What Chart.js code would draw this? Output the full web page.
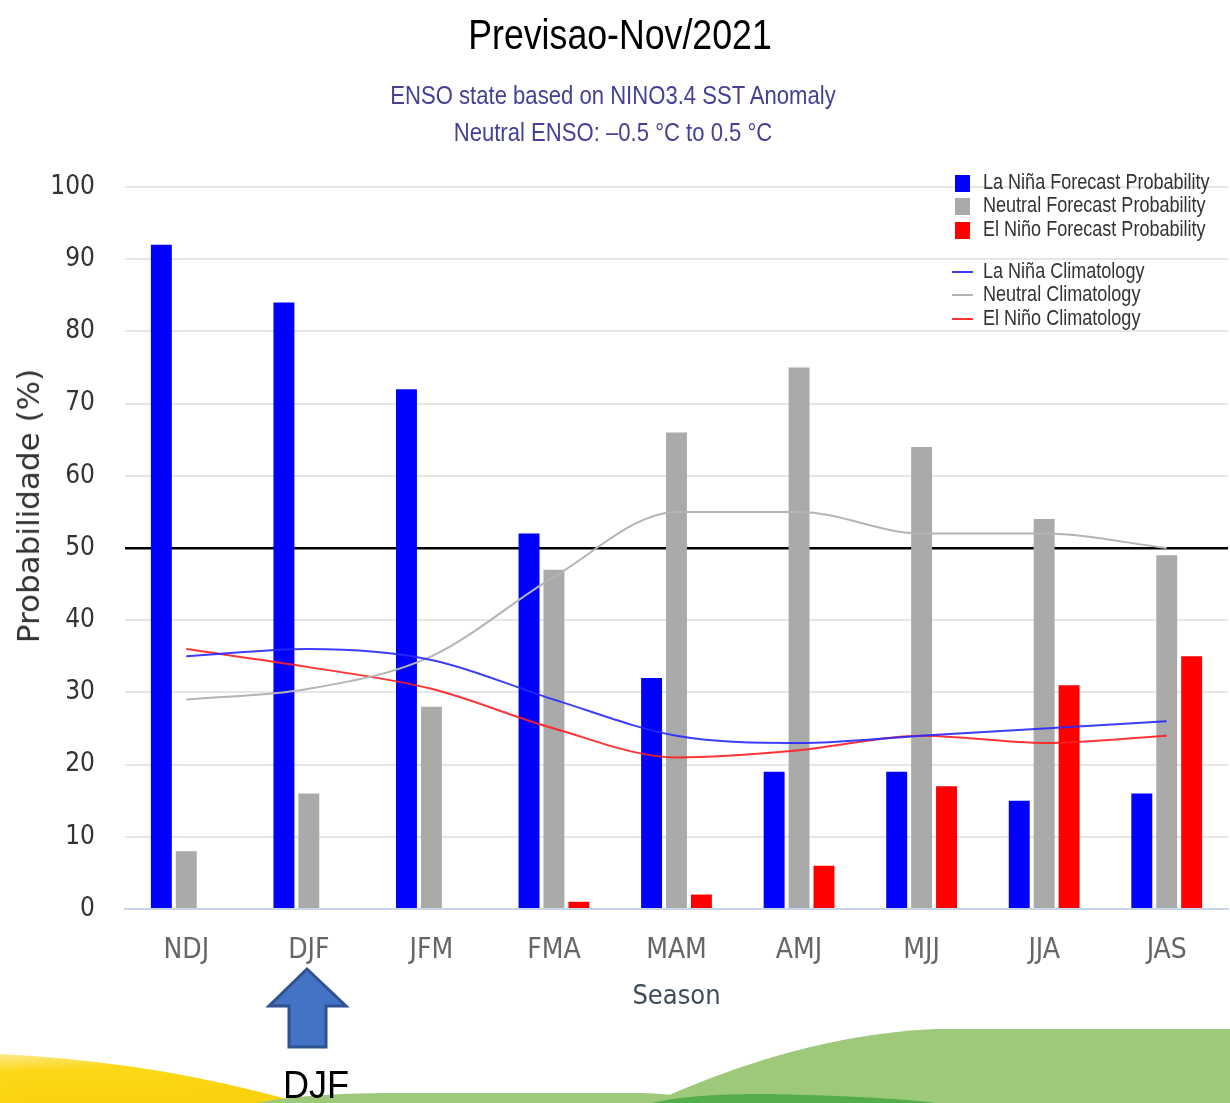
<!DOCTYPE html>
<html>
<head>
<meta charset="utf-8">
<script src="https://cdn.jsdelivr.net/npm/chart.js@4.4.0/dist/chart.umd.min.js"></script>
<style>
  body { margin: 0; background: #fff; }
  #page { position: relative; width: 1230px; height: 1103px; overflow: hidden; }
  #deco { position: absolute; left: 0; top: 0; }
  #myChart { position: absolute; left: 0; top: 0; }
  .txt { position: absolute; white-space: nowrap; }
  #title { left: 0; width: 1240px; top: 13px; text-align: center; transform: scaleX(0.83);
    font: 43px "Liberation Sans", Arial, sans-serif; line-height: 43px; color: #000; }
  #subtitle { left: 0; width: 1226px; top: 77px; text-align: center; transform: scaleX(0.85);
    font: 26px "Liberation Sans", sans-serif; line-height: 37px; color: #453f96; }
  #ylabel { left: 28px; top: 506px; transform: translate(-50%, -50%) rotate(-90deg);
    font: 31px "DejaVu Sans", sans-serif; color: #333; }
  #djf { left: 283px; top: 1066px; transform: scaleX(0.95); transform-origin: left center;
    font: 38px "Liberation Sans", Arial, sans-serif; line-height: 38px; color: #000; }
</style>
</head>
<body>
<div id="page">
  <svg id="deco" width="1230" height="1103">
    <defs>
      <linearGradient id="yel" x1="0" y1="0" x2="0.3" y2="1">
        <stop offset="0" stop-color="#fde98a"/>
        <stop offset="0.35" stop-color="#fcd817"/>
        <stop offset="1" stop-color="#fbd20f"/>
      </linearGradient>
    </defs>
    <path d="M0,1054 Q160,1062 300,1103 L0,1103 Z" fill="url(#yel)"/>
    <path d="M255,1103 Q300,1094 380,1093 L640,1093 Q700,1095 720,1103 Z" fill="#9ec97b"/>
    <path d="M651,1103 Q800,1035 935,1029 L1230,1029 L1230,1103 Z" fill="#9ec97b"/>
    <path d="M651,1103 Q690,1094 760,1094 Q880,1096 935,1103 Z" fill="#52ad4a"/>
    <polygon points="307,969 346,1006 326,1006 326,1047 289,1047 289,1006 269,1006"
      fill="#4472c4" stroke="#2f528f" stroke-width="3" stroke-linejoin="miter"/>
  </svg>
  <canvas id="myChart" width="1230" height="1103"></canvas>
  <div class="txt" id="title">Previsao-Nov/2021</div>
  <div class="txt" id="subtitle">ENSO state based on NINO3.4 SST Anomaly<br>Neutral ENSO: –0.5 °C to 0.5 °C</div>
  <div class="txt" id="ylabel">Probabilidade (%)</div>
  <div class="txt" id="djf">DJF</div>
</div>
<script>
const seasons = ['NDJ', 'DJF', 'JFM', 'FMA', 'MAM', 'AMJ', 'MJJ', 'JJA', 'JAS'];
const laNinaProb = [92, 84, 72, 52, 32, 19, 19, 15, 16];
const neutralProb = [8, 16, 28, 47, 66, 75, 64, 54, 49];
const elNinoProb = [0, 0, 0, 1, 2, 6, 17, 31, 35];
const laNinaClim = [35, 36, 34.5, 29, 24, 23, 24, 25, 26];
const neutralClim = [29, 30.5, 35, 46, 55, 55, 52, 52, 50];
const elNinoClim = [36, 33.5, 30.5, 25, 21, 22, 24, 23, 24];
const yMin = 0;
const yMax = 100;
const yStep = 10;
const thresholdValue = 50;

const condensed = '"DejaVu Sans Condensed", "DejaVu Sans", sans-serif';

// legend drawn by hand: two groups (bars, then lines) in the top right corner
const legendPlugin = {
    id: 'ensoLegend',
    afterDraw(chart) {
        const ctx = chart.ctx;
        const rowsY = [183, 206, 230, 272, 295, 319];
        ctx.save();
        ctx.textBaseline = 'middle';
        chart.data.datasets.forEach((ds, i) => {
            const y = rowsY[i];
            if (ds.type === 'line') {
                ctx.strokeStyle = ds.borderColor;
                ctx.lineWidth = 2;
                ctx.beginPath();
                ctx.moveTo(952, y);
                ctx.lineTo(973, y);
                ctx.stroke();
            } else {
                ctx.fillStyle = ds.backgroundColor;
                ctx.fillRect(955, y - 8, 15, 17);
            }
            // narrow text: squeeze horizontally
            ctx.save();
            ctx.translate(983, y);
            ctx.scale(0.82, 1);
            ctx.font = '22px "Liberation Sans", Arial, sans-serif';
            ctx.fillStyle = '#333';
            ctx.fillText(ds.label, 0, 0);
            ctx.restore();
        });
        ctx.restore();
    }
};

const ctx = document.getElementById('myChart');

new Chart(ctx, {
    type: 'bar',
    data: {
        labels: seasons,
        datasets: [{
            label: 'La Niña Forecast Probability',
            data: laNinaProb,
            backgroundColor: '#0000ff',
            order: 1
        }, {
            label: 'Neutral Forecast Probability',
            data: neutralProb,
            backgroundColor: '#aaaaaa',
            order: 1
        }, {
            label: 'El Niño Forecast Probability',
            data: elNinoProb,
            backgroundColor: '#ff0000',
            order: 1
        }, {
            type: 'line',
            label: 'La Niña Climatology',
            data: laNinaClim,
            borderColor: 'rgba(40,40,255,0.9)',
            borderWidth: 2,
            pointRadius: 0,
            cubicInterpolationMode: 'monotone',
            order: 0
        }, {
            type: 'line',
            label: 'Neutral Climatology',
            data: neutralClim,
            borderColor: '#b4b4b4',
            borderWidth: 2,
            pointRadius: 0,
            cubicInterpolationMode: 'monotone',
            order: 0
        }, {
            type: 'line',
            label: 'El Niño Climatology',
            data: elNinoClim,
            borderColor: 'rgba(255,30,30,0.9)',
            borderWidth: 2,
            pointRadius: 0,
            cubicInterpolationMode: 'monotone',
            order: 0
        }]
    },
    options: {
        responsive: false,
        animation: false,
        categoryPercentage: 0.61,
        barPercentage: 0.84,
        layout: {
            padding: { top: 187, right: 2, left: 0, bottom: 0 }
        },
        plugins: {
            legend: { display: false },
            tooltip: { enabled: false }
        },
        scales: {
            x: {
                afterFit: scale => { scale.height = 194; },
                grid: { display: false },
                border: { display: true, color: '#ccd6eb', width: 2 },
                ticks: {
                    color: '#666',
                    padding: 17,
                    font: { family: condensed, size: 28 }
                },
                title: {
                    display: true,
                    text: 'Season',
                    color: '#3e4c5a',
                    font: { family: condensed, size: 27 },
                    padding: { bottom: 90 }
                }
            },
            y: {
                min: yMin,
                max: yMax,
                afterFit: scale => { scale.width = 125; },
                border: { display: false },
                grid: {
                    drawTicks: false,
                    color: c => c.tick.value === thresholdValue ? '#000' : (c.tick.value === 0 ? 'rgba(0,0,0,0)' : '#e6e6e6'),
                    lineWidth: c => c.tick.value === thresholdValue ? 2.5 : 2
                },
                ticks: {
                    stepSize: yStep,
                    color: '#333',
                    padding: 30,
                    font: { family: condensed, size: 26 }
                }
            }
        }
    },
    plugins: [legendPlugin]
});
</script>
</body>
</html>
